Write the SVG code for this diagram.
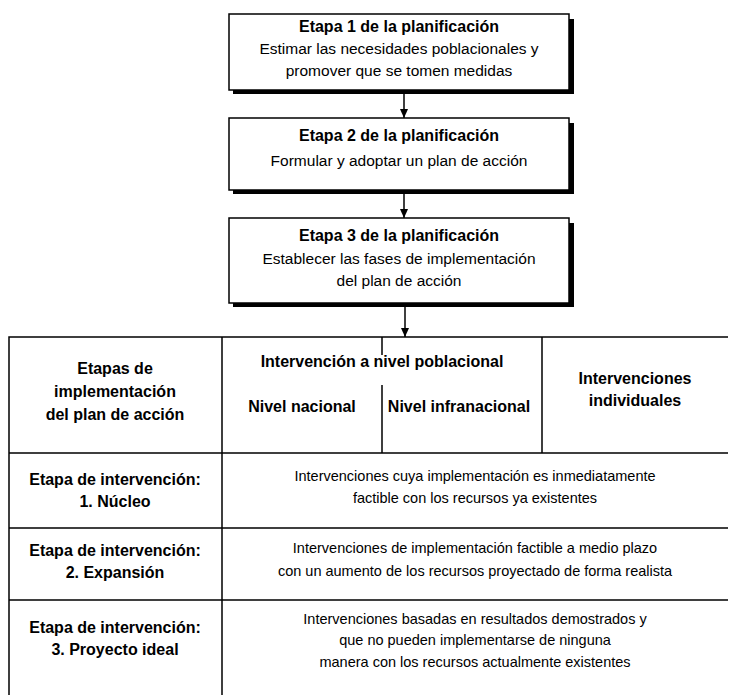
<svg xmlns="http://www.w3.org/2000/svg" width="736" height="695" viewBox="0 0 736 695">
<style>
text{font-family:"Liberation Sans",Arial,sans-serif;font-size:15.5px;fill:#000;text-anchor:middle}
.b{font-weight:bold;font-size:16px}
.s{font-size:14.5px}
.box{fill:#fff;stroke:#000;stroke-width:1.5}
.sh{fill:#000}
.ln{stroke:#000;stroke-width:1.5;fill:none}
</style>
<defs>
<marker id="ah" markerWidth="10" markerHeight="10" refX="9" refY="5" orient="auto" markerUnits="userSpaceOnUse">
<path d="M0,1 L9,5 L0,9 Z" fill="#000"/>
</marker>
</defs>
<rect width="736" height="695" fill="#fff"/>
<g id="connectors">
<line class="ln" x1="404" y1="92" x2="404" y2="118" marker-end="url(#ah)"/>
<line class="ln" x1="404" y1="194" x2="404" y2="218" marker-end="url(#ah)"/>
<line class="ln" x1="405" y1="307" x2="405" y2="337" marker-end="url(#ah)"/>
</g>
<g id="stage1">
<rect class="sh" x="233" y="19" width="341" height="75"/>
<rect class="box" x="229" y="14" width="340" height="76"/>
<text class="b" x="399" y="32">Etapa 1 de la planificación</text>
<text x="399" y="54">Estimar las necesidades poblacionales y</text>
<text x="399" y="76">promover que se tomen medidas</text>
</g>
<g id="stage2">
<rect class="sh" x="233" y="123" width="341" height="71"/>
<rect class="box" x="229" y="118" width="340" height="72"/>
<text class="b" x="399" y="141">Etapa 2 de la planificación</text>
<text x="399" y="166">Formular y adoptar un plan de acción</text>
</g>
<g id="stage3">
<rect class="sh" x="233" y="223" width="341" height="84"/>
<rect class="box" x="229" y="218" width="340" height="85"/>
<text class="b" x="399" y="241">Etapa 3 de la planificación</text>
<text x="399" y="264">Establecer las fases de implementación</text>
<text x="399" y="286">del plan de acción</text>
</g>
<g id="table">
<path class="ln" d="M9,695 V337 H728 M222,337 V695 M542,337 V453 M382,337 V355 M382,385 V453 M9,453 H728 M9,528 H728 M9,600 H728"/>
</g>
<g id="header">
<text class="b" x="115" y="374">Etapas de</text>
<text class="b" x="115" y="397">implementación</text>
<text class="b" x="115" y="420">del plan de acción</text>
<text class="b" x="382" y="367">Intervención a nivel poblacional</text>
<text class="b" x="302" y="412">Nivel nacional</text>
<text class="b" x="459" y="412">Nivel infranacional</text>
<text class="b" x="635" y="384">Intervenciones</text>
<text class="b" x="635" y="406">individuales</text>
</g>
<g id="row1">
<text class="b" x="115" y="485">Etapa de intervención:</text>
<text class="b" x="115" y="507">1. Núcleo</text>
<text class="s" x="475" y="481">Intervenciones cuya implementación es inmediatamente</text>
<text class="s" x="475" y="503">factible con los recursos ya existentes</text>
</g>
<g id="row2">
<text class="b" x="115" y="556">Etapa de intervención:</text>
<text class="b" x="115" y="578">2. Expansión</text>
<text class="s" x="475" y="553">Intervenciones de implementación factible a medio plazo</text>
<text class="s" x="475" y="576">con un aumento de los recursos proyectado de forma realista</text>
</g>
<g id="row3">
<text class="b" x="115" y="633">Etapa de intervención:</text>
<text class="b" x="115" y="655">3. Proyecto ideal</text>
<text class="s" x="475" y="624">Intervenciones basadas en resultados demostrados y</text>
<text class="s" x="475" y="645">que no pueden implementarse de ninguna</text>
<text class="s" x="475" y="667">manera con los recursos actualmente existentes</text>
</g>
</svg>
